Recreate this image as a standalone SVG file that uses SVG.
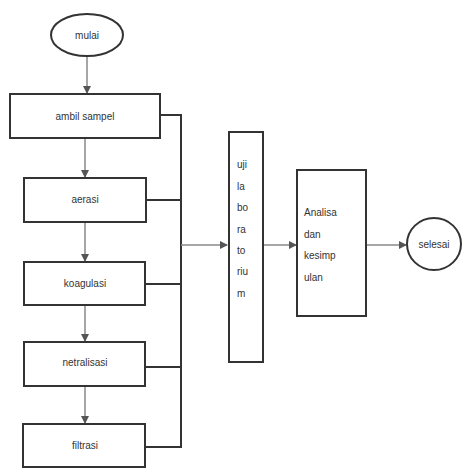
<svg xmlns="http://www.w3.org/2000/svg" width="464" height="470" viewBox="0 0 464 470">
<defs>
<marker id="ah" markerWidth="8" markerHeight="8" refX="7" refY="4" orient="auto" markerUnits="userSpaceOnUse">
<path d="M0,0 L8,4 L0,8 z" fill="#555"/>
</marker>
<style>
.box{fill:#fff;stroke:#333;stroke-width:2}
.t{font-family:"Liberation Sans",Arial,sans-serif;font-size:10px;fill:#333}
.c{text-anchor:middle}
.ln{fill:none;stroke:#888;stroke-width:1.5}
.lk{fill:none;stroke:#333;stroke-width:2}
</style>
</defs>
<rect width="464" height="470" fill="#fff"/>
<g id="connectors">
<line class="ln" x1="87" y1="57" x2="87" y2="93" marker-end="url(#ah)"/>
<line class="ln" x1="85" y1="138" x2="85" y2="177" marker-end="url(#ah)"/>
<line class="ln" x1="85" y1="222" x2="85" y2="261" marker-end="url(#ah)"/>
<line class="ln" x1="85" y1="305" x2="85" y2="341" marker-end="url(#ah)"/>
<line class="ln" x1="85" y1="386" x2="85" y2="423" marker-end="url(#ah)"/>
<polyline class="lk" points="160,115 181,115 181,447 145,447"/>
<line class="lk" x1="146" y1="200" x2="181" y2="200"/>
<line class="lk" x1="145" y1="284" x2="181" y2="284"/>
<line class="lk" x1="145" y1="367" x2="181" y2="367"/>
<line class="ln" x1="181" y1="245" x2="227" y2="245" marker-end="url(#ah)"/>
<line class="ln" x1="263" y1="245" x2="296" y2="245" marker-end="url(#ah)"/>
<line class="ln" x1="366" y1="245" x2="406" y2="245" marker-end="url(#ah)"/>
</g>
<g id="mulai">
<ellipse class="box" cx="87" cy="35" rx="36" ry="21"/>
<text class="t c" x="87" y="39">mulai</text>
</g>
<g id="ambil">
<rect class="box" x="10" y="94" width="150" height="44"/>
<text class="t c" x="85" y="120">ambil sampel</text>
</g>
<g id="aerasi">
<rect class="box" x="24" y="178" width="122" height="44"/>
<text class="t c" x="85" y="203">aerasi</text>
</g>
<g id="koagulasi">
<rect class="box" x="24" y="262" width="121" height="43"/>
<text class="t c" x="85" y="287">koagulasi</text>
</g>
<g id="netralisasi">
<rect class="box" x="24" y="342" width="121" height="44"/>
<text class="t c" x="85" y="366">netralisasi</text>
</g>
<g id="filtrasi">
<rect class="box" x="23" y="424" width="122" height="43"/>
<text class="t c" x="85" y="449">filtrasi</text>
</g>
<g id="uji">
<rect class="box" x="229" y="132" width="34" height="230"/>
<text class="t" x="237" y="168">uji</text>
<text class="t" x="237" y="190">la</text>
<text class="t" x="237" y="211">bo</text>
<text class="t" x="237" y="233">ra</text>
<text class="t" x="237" y="254">to</text>
<text class="t" x="237" y="275">riu</text>
<text class="t" x="237" y="297">m</text>
</g>
<g id="analisa">
<rect class="box" x="297" y="170" width="69" height="146"/>
<text class="t" x="304" y="216">Analisa</text>
<text class="t" x="304" y="238">dan</text>
<text class="t" x="304" y="259">kesimp</text>
<text class="t" x="304" y="281">ulan</text>
</g>
<g id="selesai">
<ellipse class="box" cx="434" cy="244" rx="27" ry="26"/>
<text class="t c" x="434" y="248">selesai</text>
</g>
</svg>
